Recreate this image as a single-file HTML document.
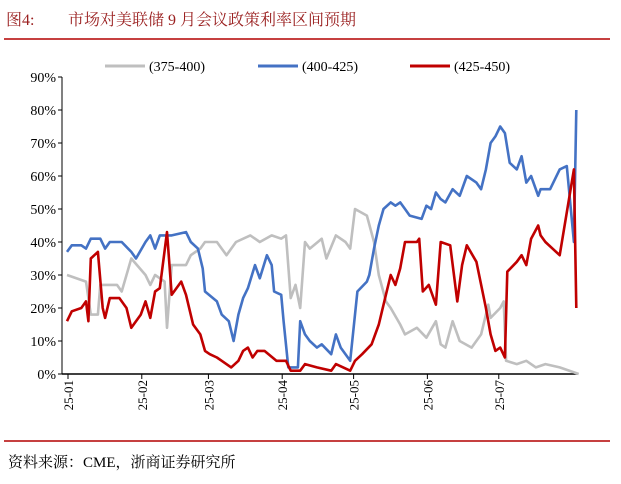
<!DOCTYPE html>
<html><head><meta charset="utf-8"><style>
body{margin:0;background:#fff;font-family:"Liberation Serif","Noto Serif CJK SC",serif;}
</style></head><body>
<svg width="621" height="479" xmlns="http://www.w3.org/2000/svg">
<text x="6" y="25" font-size="16" fill="#9a1f1f" font-family="Liberation Serif, Noto Serif CJK SC, serif">图4:</text>
<text x="68" y="25" font-size="16" fill="#9a1f1f" font-family="Liberation Serif, Noto Serif CJK SC, serif">市场对美联储 9 月会议政策利率区间预期</text>
<line x1="4" y1="39" x2="610" y2="39" stroke="#b30000" stroke-width="1.5"/>
<line x1="4" y1="441" x2="610" y2="441" stroke="#b30000" stroke-width="1.5"/>
<text x="8" y="467" font-size="15" fill="#000" font-family="Liberation Serif, Noto Serif CJK SC, serif">资料来源：CME，浙商证券研究所</text>
<g id="axes"></g><g id="series"></g><g id="legend"></g>
</svg>
<script>
const yTicks=["0%","10%","20%","30%","40%","50%","60%","70%","80%","90%"];
const monthLabels=["25-01","25-02","25-03","25-04","25-05","25-06","25-07"];
const monthDays=[0,31,59,90,120,151,181];
const seriesNames=["(375-400)","(400-425)","(425-450)"];
const grayDays=[0,8,10,13,14,21,23,27,33,35,37,41,42,44,50,52,56,58,63,65,67,71,77,81,86,90,92,94,96,98,100,102,107,109,113,117,119,121,126,129,131,134,136,140,142,147,151,155,157,159,162,165,170,174,177,178,182,183.5,184.5,189,193,197,201,207,215];
const grayVals=[30,28,18,18,27,27,25,35,30,27,30,28,14,33,33,36,38,40,40,38,36,40,42,40,42,41,42,23,27,20,40,38,41,35,42,40,38,50,48,40,30,22,20,15,12,14,11,16,9,8,16,10,8,12,21,17,20,22,4,3,4,2,3,2,0];
const blueDays=[0,2,6,8,10,14,16,18,23,27,29,33,35,37,39,44,50,52,55,57,58,63,65,68,70,72,74,76,79,81,84,86,87,90,91,93,97,98,100,102,105,107,111,113,115,119,122,126,127,129,131,133,136,138,140,142,144,149,151,153,155,157,159,162,165,168,172,174,176,178,180,182,184,186,189,191,193,195,198,199,203,207,210,213,214];
const blueVals=[37,39,39,38,41,41,38,40,40,37,35,40,42,38,42,42,43,40,38,32,25,22,18,16,10,18,23,26,33,29,36,33,25,24,16,2,2,16,12,10,8,9,6,12,8,4,25,28,30,38,45,50,52,51,52,50,48,47,51,50,55,53,52,56,54,60,58,56,62,70,72,75,73,64,62,66,58,60,54,56,56,62,63,40,80];
const redDays=[0,2,6,8,9,10,13,15,16,18,22,25,27,29,31,33,35,37,39,42,44,48,50,53,56,58,60,63,65,69,72,74,76,78,80,83,88,92,94,98,100,105,111,113,119,121,124,128,131,134,136,138,140,142,147,148,149.5,152,155,157,161,164,166,168,172,176,178,180,182,184,185,189,191,193,195,198,199,201,204,207,213,214];
const redVals=[16,19,20,22,16,35,37,20,17,23,23,20,14,16,18,22,17,25,26,43,24,28,24,15,12,7,6,5,4,2,4,7,8,5,7,7,4,4,1,1,3,2,1,3,1,4,6,9,15,24,30,27,32,40,40,41,25,27,21,40,39,22,33,39,34,20,12,7,8,5,31,34,36,33,41,45,42,40,38,36,62,20];
const L=62,R=578,T=77,B=374;
const xOf=d=>67+d*2.38;
const yOf=v=>B-(v/90)*(B-T);
const NS="http://www.w3.org/2000/svg";
function mk(tag,attrs,parent,text){const e=document.createElementNS(NS,tag);for(const k in attrs)e.setAttribute(k,attrs[k]);if(text!==undefined)e.textContent=text;parent.appendChild(e);return e;}
const ax=document.getElementById('axes');
const yl=mk('line',{x1:L,y1:T,x2:L,y2:B,stroke:'#000','stroke-width':1},ax);


yTicks.forEach((t,i)=>{const y=yOf(i*10);
 const tk=mk('line',{x1:L-4,y1:y,x2:L,y2:y,stroke:'#000'},ax);
 
 
 const tx=mk('text',{x:L-6,y:y+5,'text-anchor':'end','font-size':14,'font-family':'Liberation Serif, serif'},ax,t);
 
 });
const xl=mk('line',{x1:L,y1:B,x2:R,y2:B,stroke:'#000','stroke-width':1.5},ax);


monthLabels.forEach((m,i)=>{const x=xOf(monthDays[i])+1;
 const tk=mk('line',{x1:x,y1:B,x2:x,y2:B+5,stroke:'#000'},ax);
 
 
 const tx=mk('text',{x:0,y:0,transform:`translate(${x+5},${B+6}) rotate(-90)`,'text-anchor':'end','font-size':13,'font-family':'Liberation Serif, serif'},ax,m);
 
 });
const sg=document.getElementById('series');
const colors=["#bfbfbf","#4472c4","#c00000"];
[[grayDays,grayVals],[blueDays,blueVals],[redDays,redVals]].forEach((s,i)=>{
 const pts=s[0].map((d,j)=>xOf(d).toFixed(1)+','+yOf(s[1][j]).toFixed(1)).join(' ');
 const p=mk('polyline',{points:pts,fill:'none',stroke:colors[i],'stroke-width':2.6,'stroke-linejoin':'round'},sg);
 
 });
const lg=document.getElementById('legend');
const lx=[105,258,410];
seriesNames.forEach((n,i)=>{
 const l=mk('line',{x1:lx[i],y1:66,x2:lx[i]+40,y2:66,stroke:colors[i],'stroke-width':3},lg);
 
 
 const t=mk('text',{x:lx[i]+44,y:71,'font-size':14,'font-family':'Liberation Serif, serif'},lg,n);
 
 });
</script>
</body></html>
